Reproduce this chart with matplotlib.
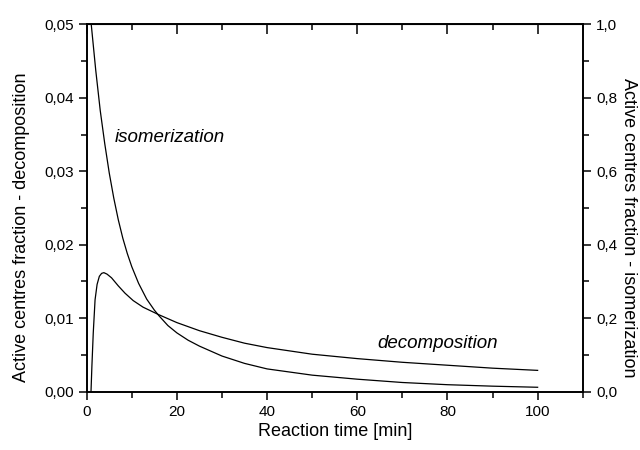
import matplotlib
matplotlib.use("Agg")
import matplotlib.pyplot as plt
from matplotlib import font_manager
from matplotlib.ticker import MultipleLocator, FuncFormatter

plt.rcParams['font.family'] = ['Liberation Sans', 'DejaVu Sans']

# labels in the reference are set in a condensed face
installed = {f.name for f in font_manager.fontManager.ttflist}
if 'Liberation Sans Narrow' in installed:
    label_font, label_size = 'Liberation Sans Narrow', 15.5
else:
    label_font, label_size = 'Liberation Sans', 13

# reaction time [min] and active centre fractions
t_dec = [0.95, 1.15, 1.45, 1.85, 2.3, 2.8, 3.3, 3.8, 4.5, 5.5, 7.0, 8.5, 10.3,
         12.5, 15.9, 20, 25, 30, 35, 40, 50, 60, 70, 80, 90, 100]
frac_dec = [0.0, 0.0035, 0.008, 0.0125, 0.0146, 0.0157, 0.0161, 0.0162, 0.0160,
            0.0155, 0.0144, 0.0134, 0.0124, 0.0115, 0.0105, 0.0094, 0.0083,
            0.0074, 0.0066, 0.0060, 0.0051, 0.0045, 0.0040, 0.0036, 0.0032, 0.0029]

t_iso = [1, 2, 3, 4, 5, 6, 7, 8, 9, 10, 11.5, 13.3, 15, 16, 18, 20, 22.5, 25,
         30, 35, 40, 50, 60, 70, 80, 90, 100]
frac_iso = [1.0, 0.875, 0.765, 0.675, 0.595, 0.527, 0.468, 0.418, 0.376, 0.340,
            0.295, 0.252, 0.222, 0.207, 0.180, 0.160, 0.140, 0.124, 0.097,
            0.077, 0.062, 0.045, 0.034, 0.025, 0.019, 0.015, 0.012]

fig = plt.figure(figsize=(6.4, 4.5), dpi=100)
ax = fig.add_axes([0.1355, 0.1296, 0.775, 0.8164])
ax2 = ax.twinx()

ax.plot(t_dec, frac_dec, color='black', lw=0.9)
ax2.plot(t_iso, frac_iso, color='black', lw=0.9)

ax.set_xlim(0, 110)
ax.set_ylim(0, 0.05)
ax2.set_ylim(0, 1.0)

comma = lambda fmt: FuncFormatter(lambda v, p: (fmt % v).replace('.', ','))

ax.xaxis.set_major_locator(MultipleLocator(20))
ax.xaxis.set_minor_locator(MultipleLocator(10))
ax.xaxis.set_major_formatter(FuncFormatter(lambda v, p: '%d' % v if v <= 100 else ''))
ax.yaxis.set_major_locator(MultipleLocator(0.01))
ax.yaxis.set_minor_locator(MultipleLocator(0.005))
ax.yaxis.set_major_formatter(comma('%.2f'))
ax2.yaxis.set_major_locator(MultipleLocator(0.2))
ax2.yaxis.set_minor_locator(MultipleLocator(0.1))
ax2.yaxis.set_major_formatter(comma('%.1f'))

ax.tick_params(axis='x', which='both', direction='out', top=False, labelsize=11, width=1.1)
ax.tick_params(axis='x', which='major', length=6)
ax.tick_params(axis='x', which='minor', length=4)
ax.tick_params(axis='y', which='both', direction='out', right=False, labelsize=11, width=1.1)
ax.tick_params(axis='y', which='major', length=6)
ax.tick_params(axis='y', which='minor', length=4)
ax2.tick_params(axis='y', which='both', direction='out', labelsize=11, width=1.1)
ax2.tick_params(axis='y', which='major', length=6)
ax2.tick_params(axis='y', which='minor', length=4)

# top axis ticks pointing inward, no labels
sec = ax.secondary_xaxis('top')
sec.xaxis.set_major_locator(MultipleLocator(20))
sec.xaxis.set_minor_locator(MultipleLocator(10))
sec.tick_params(which='both', direction='in', labeltop=False, width=1.1)
sec.tick_params(which='major', length=7)
sec.tick_params(which='minor', length=4)

for a in (ax, ax2):
    for s in a.spines.values():
        s.set_linewidth(1.2)

ax.set_xlabel('Reaction time [min]', fontsize=label_size, family=label_font, labelpad=3)
ax.set_ylabel('Active centres fraction - decomposition', fontsize=label_size,
              family=label_font)
ax.yaxis.set_label_coords(-0.115, 0.447)
ax2.set_ylabel('Active centres fraction - isomerization', fontsize=label_size,
               family=label_font, rotation=-90, va='center', ha='center')
ax2.yaxis.set_label_coords(1.093, 0.447)

ax.text(6.3, 0.0346, 'isomerization', fontsize=label_size + 0.5, family=label_font,
        style='italic', va='center')
ax.text(64.5, 0.0066, 'decomposition', fontsize=label_size + 0.5, family=label_font,
        style='italic', va='center')

fig.savefig('out.png', dpi=100)
